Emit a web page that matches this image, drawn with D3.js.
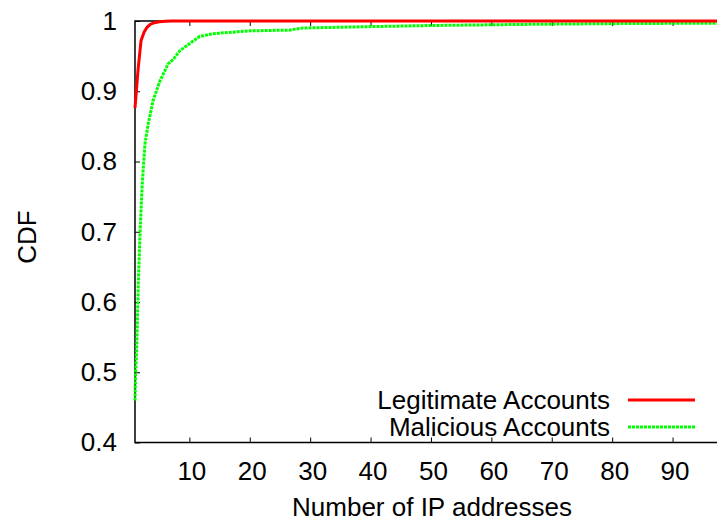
<!DOCTYPE html>
<html>
<head>
<meta charset="utf-8">
<script src="https://cdn.jsdelivr.net/npm/d3@7"></script>
<style>
  body { margin: 0; background: #fff; }
  text { font-family: "Liberation Sans", Arial, sans-serif; fill: #000; }
</style>
</head>
<body>
<div id="chart"></div>
<script>
const legitX = [1, 1.5, 2, 2.5, 3, 3.5, 4, 5, 6, 7, 10, 20, 40, 60, 80, 100];
const legitY = [0.876, 0.93, 0.972, 0.984, 0.991, 0.995, 0.997, 0.999, 0.9995, 1, 1, 1, 1, 1, 1, 1];

const malX = [1, 1.1, 1.28, 1.55, 1.83, 2.2, 2.66, 3.2, 4.0, 5.14, 6.5, 7.4, 8.45, 10.4, 11.7, 14, 20, 26.5, 28.8, 40, 50, 70, 85, 100];
const malY = [0.46, 0.50, 0.531, 0.627, 0.698, 0.769, 0.826, 0.854, 0.887, 0.915, 0.939, 0.946, 0.958, 0.970, 0.978, 0.982, 0.986, 0.987, 0.990, 0.992, 0.9936, 0.9956, 0.9965, 0.997];

const xTicks = [10, 20, 30, 40, 50, 60, 70, 80, 90];
const yTicks = [0.4, 0.5, 0.6, 0.7, 0.8, 0.9, 1];

const seriesNames = ["Legitimate Accounts", "Malicious Accounts"];
const seriesColors = ["#ff0000", "#00ff00"];

const width = 717, height = 521;
const plotLeft = 135, plotTop = 21, plotBottom = 442.5;
const pxPerUnit = 6.04;
const fontSize = 26;

const svg = d3.select("#chart")
  .append("svg")
  .attr("width", width)
  .attr("height", height);

const x = d3.scaleLinear().domain([1, 100]).range([plotLeft, plotLeft + 99 * pxPerUnit]);
const y = d3.scaleLinear().domain([0.4, 1]).range([plotBottom, plotTop]);

// ticks (inward) + labels
svg.append("g")
  .attr("transform", `translate(0,${plotBottom})`)
  .call(d3.axisBottom(x).tickValues(xTicks).tickSize(-5).tickFormat(d3.format("d")))
  .call(g => g.select(".domain").remove())
  .call(g => g.selectAll("text").attr("font-size", fontSize).attr("y", 37.5).attr("dy", 0).attr("dx", 2));

svg.append("g")
  .attr("transform", `translate(0,${plotTop})`)
  .call(d3.axisTop(x).tickValues(xTicks).tickSize(-5).tickFormat(""))
  .call(g => g.select(".domain").remove());

svg.append("g")
  .attr("transform", `translate(${plotLeft},0)`)
  .call(d3.axisLeft(y).tickValues(yTicks).tickSize(-5).tickPadding(18).tickFormat(d => d === 1 ? "1" : d3.format(".1f")(d)))
  .call(g => g.select(".domain").remove())
  .call(g => g.selectAll("text").attr("font-size", fontSize));

svg.selectAll(".tick line").attr("stroke", "#000").attr("stroke-width", 1);

// frame
svg.append("path")
  .attr("d", `M${x(100)},${plotTop}H${plotLeft}V${plotBottom}H${x(100)}`)
  .attr("fill", "none")
  .attr("stroke", "#000")
  .attr("stroke-width", 1.5);

const line = d3.line()
  .x(d => x(d[0]))
  .y(d => y(d[1]));

svg.append("path")
  .datum(malX.map((v, i) => [v, malY[i]]))
  .attr("d", line)
  .attr("fill", "none")
  .attr("stroke", seriesColors[1])
  .attr("stroke-width", 3)
  .attr("stroke-dasharray", "3,1");

svg.append("path")
  .datum(legitX.map((v, i) => [v, legitY[i]]))
  .attr("d", line)
  .attr("fill", "none")
  .attr("stroke", seriesColors[0])
  .attr("stroke-width", 3);

// legend
const legend = svg.append("g");
seriesNames.forEach((name, i) => {
  const ly = 400 + i * 27;
  legend.append("text")
    .attr("x", 610)
    .attr("y", ly)
    .attr("dy", "0.35em")
    .attr("text-anchor", "end")
    .attr("font-size", fontSize)
    .text(name);
  legend.append("line")
    .attr("x1", 628).attr("x2", 695)
    .attr("y1", ly).attr("y2", ly)
    .attr("stroke", seriesColors[i])
    .attr("stroke-width", 3)
    .attr("stroke-dasharray", i === 1 ? "3,1" : null);
});

// axis titles
svg.append("text")
  .attr("x", 432)
  .attr("y", 516)
  .attr("text-anchor", "middle")
  .attr("font-size", fontSize)
  .text("Number of IP addresses");

svg.append("text")
  .attr("transform", `translate(27,237) rotate(-90)`)
  .attr("dy", "0.35em")
  .attr("text-anchor", "middle")
  .attr("font-size", fontSize)
  .text("CDF");
</script>
</body>
</html>
